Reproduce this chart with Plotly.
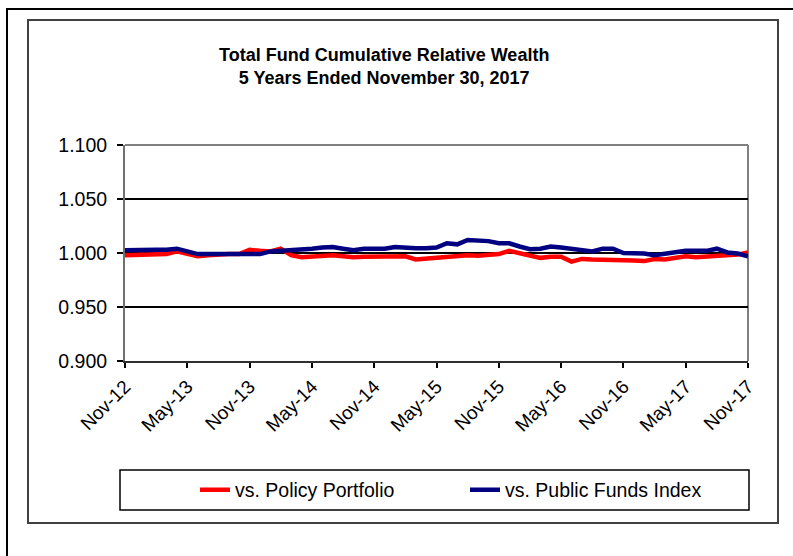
import plotly.graph_objects as go

# Month-end labels, Nov-12 through Nov-17
months = ["Nov-12", "Dec-12", "Jan-13", "Feb-13", "Mar-13", "Apr-13", "May-13", "Jun-13", "Jul-13", "Aug-13",
          "Sep-13", "Oct-13", "Nov-13", "Dec-13", "Jan-14", "Feb-14", "Mar-14", "Apr-14", "May-14", "Jun-14",
          "Jul-14", "Aug-14", "Sep-14", "Oct-14", "Nov-14", "Dec-14", "Jan-15", "Feb-15", "Mar-15", "Apr-15",
          "May-15", "Jun-15", "Jul-15", "Aug-15", "Sep-15", "Oct-15", "Nov-15", "Dec-15", "Jan-16", "Feb-16",
          "Mar-16", "Apr-16", "May-16", "Jun-16", "Jul-16", "Aug-16", "Sep-16", "Oct-16", "Nov-16", "Dec-16",
          "Jan-17", "Feb-17", "Mar-17", "Apr-17", "May-17", "Jun-17", "Jul-17", "Aug-17", "Sep-17", "Oct-17",
          "Nov-17"]

vs_policy = [0.998, 0.998, 0.9985, 0.998, 0.999, 1.0015, 0.9995, 0.997, 0.998, 0.999,
             0.999, 0.999, 1.003, 1.002, 1.0015, 1.004, 0.998, 0.996, 0.997, 0.9975,
             0.998, 0.997, 0.996, 0.9965, 0.9965, 0.9965, 0.997, 0.997, 0.994, 0.995,
             0.996, 0.997, 0.998, 0.998, 0.9975, 0.998, 0.999, 1.002, 1.000, 0.997,
             0.9955, 0.9965, 0.9965, 0.992, 0.9945, 0.994, 0.994, 0.994, 0.993, 0.993,
             0.9925, 0.9945, 0.994, 0.9955, 0.997, 0.996, 0.9965, 0.9975, 0.997, 0.9985,
             1.0005]

vs_public = [1.0025, 1.003, 1.003, 1.003, 1.003, 1.004, 1.0015, 0.999, 0.999, 0.999,
             0.999, 0.999, 0.999, 0.999, 1.0015, 1.002, 1.002, 1.0025, 1.004, 1.005,
             1.0055, 1.004, 1.0025, 1.004, 1.004, 1.004, 1.0055, 1.0045, 1.0045, 1.0045,
             1.005, 1.009, 1.008, 1.012, 1.0115, 1.011, 1.009, 1.009, 1.006, 1.0035,
             1.004, 1.006, 1.005, 1.004, 1.0025, 1.0015, 1.004, 1.004, 1.000, 1.000,
             0.9995, 0.998, 0.9995, 1.0005, 1.002, 1.002, 1.002, 1.004, 1.0005, 0.9995,
             0.997]

tick_labels = months[::6]
y_ticks = [0.900, 0.950, 1.000, 1.050, 1.100]

FONT = "Liberation Sans, Arial, sans-serif"

fig = go.Figure()
fig.add_trace(go.Scatter(x=months, y=vs_policy, mode="lines", name="vs. Policy Portfolio",
                         line=dict(color="#FF0000", width=4.5)))
fig.add_trace(go.Scatter(x=months, y=vs_public, mode="lines", name="vs. Public Funds Index",
                         line=dict(color="#000080", width=4.5)))

W, H = 793, 556
L, R, T, B = 125, 45, 145, 195
pw, ph = W - L - R, H - T - B


def px_x(v):
    return (v - L) / pw


def px_y(v):
    return (H - B - v) / ph


fig.update_layout(
    width=W, height=H,
    margin=dict(l=L, r=R, t=T, b=B, pad=0),
    paper_bgcolor="white", plot_bgcolor="white",
    font=dict(family=FONT, size=19, color="black"),
    showlegend=True,
    legend=dict(orientation="h", x=px_x(195), xanchor="left", y=px_y(490), yanchor="middle",
                bgcolor="rgba(0,0,0,0)", borderwidth=0, font=dict(size=19.5),
                entrywidth=225, entrywidthmode="pixels", itemwidth=30),
    xaxis=dict(type="category", range=[0, len(months) - 1],
               tickmode="array", tickvals=tick_labels, ticktext=tick_labels,
               tickangle=-45, ticks="outside", ticklen=5, tickwidth=1.5, tickcolor="black",
               showline=True, linecolor="#303030", linewidth=2,
               showgrid=False, zeroline=False, tickfont=dict(size=19)),
    yaxis=dict(range=[0.9, 1.1], tickmode="array", tickvals=y_ticks, tickformat=".3f",
               ticks="outside", ticklen=6, tickwidth=1.5, tickcolor="black",
               ticklabelstandoff=6,
               showline=True, linecolor="#707070", linewidth=2,
               showgrid=True, gridcolor="black", gridwidth=2, zeroline=False,
               tickfont=dict(size=19.5)),
)

fig.add_annotation(
    text="<b>Total Fund Cumulative Relative Wealth</b><br><b>5 Years Ended November 30, 2017</b>",
    xref="paper", yref="paper", x=px_x(384), y=px_y(66), xanchor="center", yanchor="middle",
    showarrow=False, font=dict(size=18, family=FONT, color="black"), align="center",
)

shapes = [
    # plot-area border (top and right edges in grey)
    dict(type="line", xref="paper", yref="paper", x0=0, x1=1, y0=1, y1=1,
         line=dict(color="#808080", width=2), layer="above"),
    dict(type="line", xref="paper", yref="paper", x0=1, x1=1, y0=0, y1=1,
         line=dict(color="#808080", width=2), layer="below"),
    # chart-area frame
    dict(type="rect", xref="paper", yref="paper", x0=px_x(28), x1=px_x(778), y0=px_y(523), y1=px_y(20),
         line=dict(color="#404040", width=2), layer="below"),
    # outer page frame
    dict(type="rect", xref="paper", yref="paper", x0=px_x(7), x1=px_x(820), y0=px_y(590), y1=px_y(9),
         line=dict(color="black", width=2), layer="below"),
    # legend frame
    dict(type="rect", xref="paper", yref="paper", x0=px_x(120), x1=px_x(749), y0=px_y(510), y1=px_y(470),
         line=dict(color="black", width=1.5), layer="below"),
]
fig.update_layout(shapes=shapes)

fig.write_html("out.html")
